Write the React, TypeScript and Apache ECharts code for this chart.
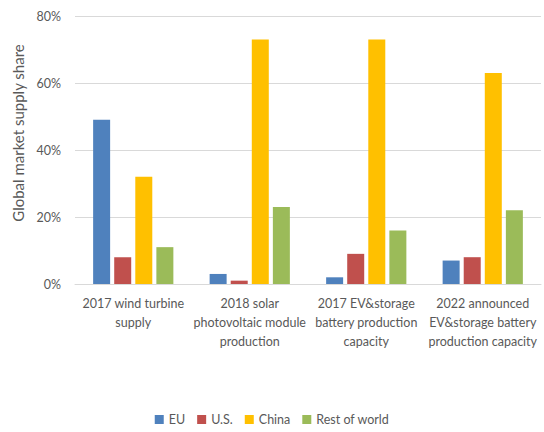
import * as echarts from "echarts";
import { useEffect, useRef } from "react";

const categories = [
  "2017 wind turbine\nsupply",
  "2018 solar\nphotovoltaic module\nproduction",
  "2017 EV&storage\nbattery production\ncapacity",
  "2022 announced\nEV&storage battery\nproduction capacity",
];

const euShare = [49, 3, 2, 7];
const usShare = [8, 1, 9, 8];
const chinaShare = [32, 73, 73, 63];
const restShare = [11, 23, 16, 22];

const FONT = "Lato";
const TEXT = "#595959";

export default function App() {
  const chartRef = useRef<HTMLDivElement>(null);

  useEffect(() => {
    if (!chartRef.current) return;
    document.body.style.margin = "0";
    const chart = echarts.init(chartRef.current, null, { renderer: "svg" });

    const bar = (name: string, data: number[], color: string) => ({
      name,
      type: "bar",
      data,
      barWidth: 17,
      barGap: "24%",
      itemStyle: { color },
    });

    chart.setOption({
      animation: false,
      textStyle: { fontFamily: FONT, color: TEXT },
      grid: { left: 75, right: 3, top: 16, bottom: 148 },
      legend: {
        top: 408,
        left: "center",
        itemWidth: 9,
        itemHeight: 9,
        itemGap: 12,
        itemStyle: { borderWidth: 0 },
        icon: "rect",
        textStyle: { fontFamily: FONT, fontSize: 12.5, color: TEXT },
      },
      graphic: [
        {
          type: "text",
          x: 18,
          y: 133,
          rotation: Math.PI / 2,
          style: {
            text: "Global market supply share",
            fontFamily: FONT,
            fontSize: 15,
            fill: TEXT,
            align: "center",
            verticalAlign: "middle",
          },
        },
      ],
      xAxis: {
        type: "category",
        data: categories,
        axisTick: { show: false },
        axisLine: { lineStyle: { color: "#D9D9D9" } },
        axisLabel: {
          interval: 0,
          fontFamily: FONT,
          fontSize: 12.5,
          color: TEXT,
          lineHeight: 19,
          margin: 10,
        },
      },
      yAxis: {
        type: "value",
        min: 0,
        max: 80,
        interval: 20,
        axisLabel: {
          formatter: "{value}%",
          fontFamily: FONT,
          fontSize: 12.5,
          color: TEXT,
          margin: 14,
        },
        splitLine: { lineStyle: { color: "#D9D9D9" } },
      },
      series: [
        bar("EU", euShare, "#4F81BD"),
        bar("U.S.", usShare, "#C0504D"),
        bar("China", chinaShare, "#FFC000"),
        bar("Rest of world", restShare, "#9BBB59"),
      ],
    });

    return () => chart.dispose();
  }, []);

  return <div ref={chartRef} style={{ width: 544, height: 432 }} />;
}
